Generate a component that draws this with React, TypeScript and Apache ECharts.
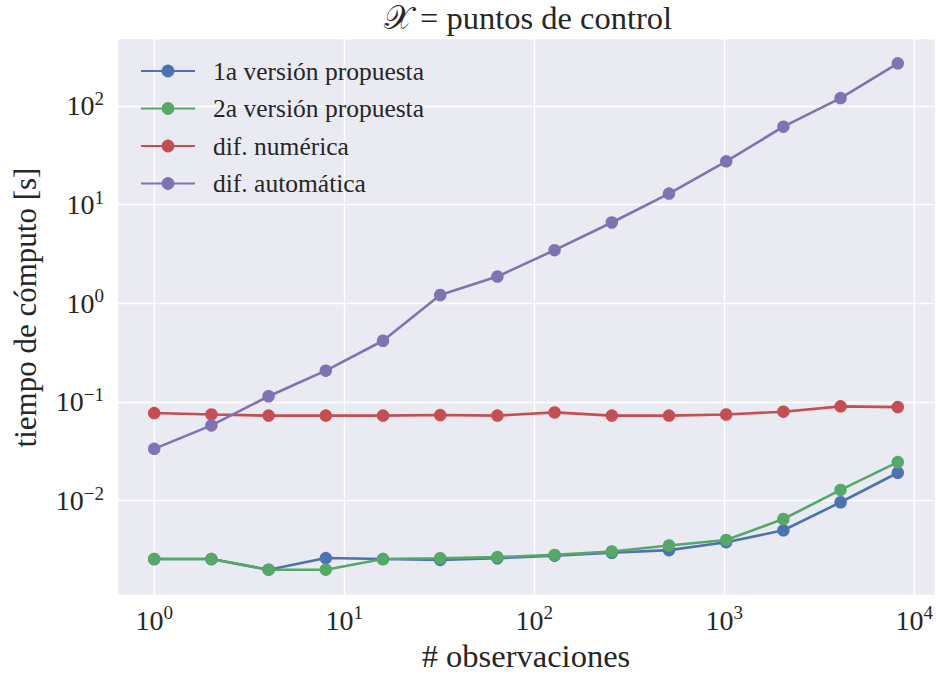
import React, { useEffect, useRef } from "react";
import * as echarts from "echarts";

// Number of observations (x) and computing time in seconds for each method (y)
const observaciones = [1, 2, 4, 8, 16, 32, 64, 128, 256, 512, 1024, 2048, 4096, 8192];
const version1 = [0.00255, 0.00255, 0.00199, 0.00261, 0.00255, 0.0025, 0.0026, 0.00276, 0.00295, 0.00314, 0.00378, 0.00499, 0.0096, 0.0191];
const version2 = [0.00255, 0.00255, 0.00199, 0.00199, 0.00255, 0.0026, 0.00267, 0.00281, 0.00304, 0.0035, 0.00398, 0.00649, 0.0128, 0.0245];
const difNumerica = [0.077, 0.0745, 0.0725, 0.0725, 0.0725, 0.0735, 0.0725, 0.0782, 0.0725, 0.0725, 0.0744, 0.0795, 0.09, 0.0885];
const difAutomatica = [0.0334, 0.0577, 0.114, 0.207, 0.416, 1.21, 1.86, 3.45, 6.58, 12.9, 27.4, 61.6, 120, 270];

const seriesNames = ["1a versión propuesta", "2a versión propuesta", "dif. numérica", "dif. automática"];
const seriesColors = ["#4C72B0", "#55A868", "#C44E52", "#8172B2"];
const seriesValues = [version1, version2, difNumerica, difAutomatica];

const titleText = "𝒳 = puntos de control";
const xName = "# observaciones";
const yName = "tiempo de cómputo [s]";

// Axis extents: data range in decades plus a 5% margin on each side
const X_MIN = 0.6372;
const X_MAX = 12852;
const Y_MIN = 0.001102;
const Y_MAX = 487.5;

const FONT = "Liberation Serif";
const TEXT = "#262626";

// Tick labels as powers of ten with a raised exponent
const powerLabel = (v: number) => {
  const e = Math.round(Math.log10(v));
  const s = e < 0 ? "\u2212" + Math.abs(e) : String(e);
  return `{b|10}{s|${s}}`;
};

const labelRich = {
  b: { fontFamily: FONT, fontSize: 28, color: TEXT, lineHeight: 34, verticalAlign: "middle" },
  s: { fontFamily: FONT, fontSize: 19, color: TEXT, lineHeight: 19, verticalAlign: "top" },
};

export default function App() {
  const ref = useRef<HTMLDivElement>(null);

  useEffect(() => {
    if (!ref.current) return;
    const chart = echarts.init(ref.current, null, { renderer: "svg" });

    const series = seriesNames.map((name, i) => ({
      name,
      type: "line",
      data: observaciones.map((x, j) => [x, seriesValues[i][j]]),
      symbol: "circle",
      symbolSize: 12.5,
      showSymbol: true,
      color: seriesColors[i],
      lineStyle: { width: 2.6, color: seriesColors[i] },
      itemStyle: { color: seriesColors[i] },
      emphasis: { disabled: true },
    }));

    chart.setOption({
      animation: false,
      backgroundColor: "#ffffff",
      textStyle: { fontFamily: FONT, color: TEXT },
      graphic: [
        {
          type: "text",
          x: 528,
          y: 18,
          style: {
            text: titleText,
            fontFamily: FONT,
            fontSize: 32.5,
            fill: TEXT,
            align: "center",
            verticalAlign: "middle",
            textAlign: "center",
            textVerticalAlign: "middle",
          },
        },
      ],
      legend: {
        orient: "vertical",
        left: 140,
        top: 58,
        padding: 0,
        itemWidth: 54,
        itemHeight: 16,
        itemGap: 11.5,
        textStyle: {
          fontFamily: FONT,
          fontSize: 25.5,
          color: TEXT,
          lineHeight: 26,
          padding: [0, 0, 0, 13],
        },
        data: seriesNames,
      },
      grid: {
        left: 117,
        top: 38,
        width: 820,
        height: 559,
        show: true,
        backgroundColor: "#EAEAF2",
        borderWidth: 0,
      },
      xAxis: {
        type: "log",
        logBase: 10,
        min: X_MIN,
        max: X_MAX,
        axisLine: { show: false },
        axisTick: { show: false },
        splitLine: { show: true, lineStyle: { color: "#ffffff", width: 1.4 } },
        axisLabel: {
          formatter: powerLabel,
          rich: labelRich,
          margin: 8,
          showMinLabel: false,
          showMaxLabel: false,
        },
        name: xName,
        nameLocation: "middle",
        nameGap: 44,
        nameTextStyle: { fontFamily: FONT, fontSize: 32.5, color: TEXT },
      },
      yAxis: {
        type: "log",
        logBase: 10,
        min: Y_MIN,
        max: Y_MAX,
        axisLine: { show: false },
        axisTick: { show: false },
        splitLine: { show: true, lineStyle: { color: "#ffffff", width: 1.4 } },
        axisLabel: {
          formatter: powerLabel,
          rich: labelRich,
          margin: 13,
          showMinLabel: false,
          showMaxLabel: false,
        },
        name: yName,
        nameLocation: "middle",
        nameGap: 76,
        nameTextStyle: { fontFamily: FONT, fontSize: 31, color: TEXT, padding: [0, 0, 0, 18] },
      },
      series,
    });

    return () => chart.dispose();
  }, []);

  return (
    <div
      ref={ref}
      style={{ position: "fixed", left: 0, top: 0, width: 936, height: 677 }}
    />
  );
}
